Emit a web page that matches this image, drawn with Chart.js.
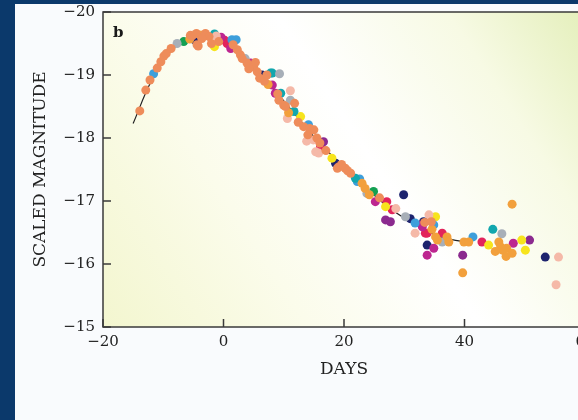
<!DOCTYPE html>
<html lang="en">
<head>
<meta charset="utf-8">
<script src="https://cdn.jsdelivr.net/npm/chart.js@4.4.1/dist/chart.umd.min.js"></script>
<style>
  html, body { margin: 0; padding: 0; overflow: hidden; }
  body { width: 578px; height: 420px; background: #0b396b; position: relative; }
  #page { position: absolute; left: 15px; top: 4px; right: 0; bottom: 0; background: #f9fbfd; }
  #wrap { position: absolute; left: 0; top: 0; width: 600px; height: 420px; }
</style>
</head>
<body>
<div id="page"></div>
<div id="wrap"><canvas id="chart"></canvas></div>

<script>
// axis ticks
var xTicks = [-20, 0, 20, 40, 60];
var yTicks = [-20, -19, -18, -17, -16, -15];

// template light curve [day, magnitude]
var curve = [[-15,-18.23],[-12,-18.9],[-9,-19.35],[-6,-19.58],[-3,-19.64],[0,-19.55],[3,-19.3],
  [6,-19.0],[9,-18.7],[12,-18.36],[15,-18.02],[18,-17.72],[21,-17.45],[24,-17.18],[27,-16.93],
  [30,-16.73],[33,-16.56],[36,-16.43],[40,-16.35]];

// observed supernovae, grouped by marker colour
var coral = [[-13.9,-18.43],[-12.9,-18.76],[-12.2,-18.92],[-11.0,-19.11],[-10.4,-19.21],[-9.9,-19.30],
  [-9.5,-19.34],[-8.7,-19.42],[-5.2,-19.62],[-4.4,-19.48],[-5.5,-19.63],[-4.5,-19.66],[-3.0,-19.66],
  [-4.2,-19.46],[-2.4,-19.61],[-0.8,-19.53],[-3.6,-19.58],[-2.0,-19.50],[2.3,-19.40],[2.8,-19.32],
  [3.1,-19.26],[3.9,-19.19],[5.0,-19.13],[5.6,-19.05],[5.3,-19.2],[6.8,-18.9],[7.2,-19.0],[9.0,-18.7],
  [9.2,-18.60],[10.0,-18.52],[10.3,-18.5],[11.8,-18.55],[13.3,-18.18],[14.3,-18.15],[15.0,-18.13],
  [15.5,-18.0],[16.0,-17.92],[19.1,-17.54],[18.9,-17.52],[20.2,-17.52],[21.1,-17.44],[20.6,-17.48],
  [25.9,-17.05],[33.4,-16.66],[34.5,-16.67],[1.6,-19.48],[4.2,-19.1],[6.0,-18.95],[12.4,-18.25],
  [14.0,-18.05],[17.0,-17.8],[19.6,-17.58]];
var amber = [[-5.6,-19.57],[-3.8,-19.63],[23.0,-17.28],[23.5,-17.20],[34.6,-16.55],[37.1,-16.43],
  [37.4,-16.35],[35.2,-16.43],[35.5,-16.38],[39.9,-16.35],[40.7,-16.35],[39.7,-15.86],[45.7,-16.35],
  [46.0,-16.27],[45.1,-16.2],[46.3,-16.22],[47.0,-16.25],[46.9,-16.12],[47.9,-16.17],[47.9,-16.95],
  [7.4,-18.85],[10.8,-18.4],[24.2,-17.1]];
var lightSalmon = [[11.1,-18.75],[10.6,-18.31],[14.9,-17.97],[15.3,-17.78],[15.8,-17.76],[28.6,-16.88],
  [31.8,-16.49],[34.1,-16.78],[55.6,-16.11],[55.2,-15.67],[-1.2,-19.62],[13.8,-17.95]];
var magenta = [[-0.4,-19.6],[1.2,-19.42],[4.5,-19.19],[8.1,-18.84],[8.6,-18.71],[25.2,-16.99],
  [32.9,-16.62],[33.0,-16.59],[34.9,-16.25],[33.8,-16.14],[48.1,-16.33]];
var crimson = [[0.6,-19.50],[0.2,-19.55],[16.1,-17.86],[27.1,-16.99],[28.0,-16.86],[33.5,-16.49],
  [33.8,-16.49],[36.3,-16.49],[42.9,-16.35]];
var purple = [[16.6,-17.94],[26.9,-16.70],[27.7,-16.67],[39.7,-16.14],[50.8,-16.38]];
var teal = [[-1.5,-19.65],[7.8,-19.03],[8.1,-19.03],[9.5,-18.71],[11.7,-18.42],[21.9,-17.36],[44.7,-16.55]];
var blue = [[-11.6,-19.02],[1.4,-19.56],[2.1,-19.56],[14.1,-18.21],[22.2,-17.31],[22.6,-17.35],
  [31.8,-16.65],[34.9,-16.62],[41.4,-16.43]];
var navy = [[-4.8,-19.56],[6.4,-19.0],[18.6,-17.6],[29.9,-17.10],[31.0,-16.72],[33.2,-16.67],
  [33.8,-16.30],[53.4,-16.11]];
var yellow = [[-1.5,-19.45],[12.8,-18.34],[18.0,-17.68],[26.9,-16.91],[35.2,-16.75],[44.0,-16.30],
  [49.5,-16.38],[50.1,-16.22]];
var green = [[-6.6,-19.53],[24.9,-17.15]];
var gray = [[-7.7,-19.50],[3.6,-19.26],[9.3,-19.02],[11.1,-18.6],[23.8,-17.12],[30.2,-16.75],
  [36.3,-16.35],[46.2,-16.48]];

function pts(arr) {
  return arr.map(function (p) { return {x: p[0], y: p[1]}; });
}

function dots(data, color) {
  return {
    type: 'scatter',
    data: pts(data),
    backgroundColor: color,
    borderWidth: 0,
    pointRadius: 4.5,
    order: 1
  };
}

function minus(v) {
  return v < 0 ? '\u2212' + Math.abs(v) : '' + v;
}

var serif = '"DejaVu Serif", "Liberation Serif", serif';

// gradient wash behind the plot, frame, inward tick marks and the panel letter
var decor = {
  id: 'decor',
  beforeDraw: function (c) {
    var a = c.chartArea, ctx = c.ctx;
    var g = ctx.createLinearGradient(a.left, a.bottom, a.right, a.top);
    g.addColorStop(0, '#f3f6cf');
    g.addColorStop(0.3, '#fbfceb');
    g.addColorStop(0.55, '#ffffff');
    g.addColorStop(0.8, '#f7fae4');
    g.addColorStop(1, '#e4efbb');
    ctx.save();
    ctx.fillStyle = g;
    ctx.fillRect(a.left, a.top, a.right - a.left, a.bottom - a.top);
    ctx.restore();
  },
  afterDraw: function (c) {
    var a = c.chartArea, ctx = c.ctx;
    ctx.save();
    ctx.strokeStyle = '#3a3a3a';
    ctx.lineWidth = 1.5;
    ctx.strokeRect(a.left, a.top, a.right - a.left, a.bottom - a.top);
    ctx.beginPath();
    yTicks.forEach(function (v) {
      var y = c.scales.y.getPixelForValue(v);
      ctx.moveTo(a.left, y);
      ctx.lineTo(a.left + 8, y);
    });
    xTicks.forEach(function (v) {
      var x = c.scales.x.getPixelForValue(v);
      ctx.moveTo(x, a.bottom);
      ctx.lineTo(x, a.bottom - 8);
    });
    ctx.stroke();
    ctx.fillStyle = '#1a1a1a';
    ctx.font = 'bold 15px ' + serif;
    ctx.textBaseline = 'middle';
    ctx.fillText('b', a.left + 10, a.top + 21);
    ctx.restore();
  }
};

var datasets = [
  {
    type: 'line',
    data: pts(curve),
    borderColor: '#222',
    borderWidth: 1.2,
    pointRadius: 0,
    tension: 0.4,
    fill: false,
    order: 100
  },
  dots(coral, '#ee8c5a'),
  dots(amber, '#f2a03c'),
  dots(lightSalmon, '#f5b9a8'),
  dots(gray, '#a7afb8'),
  dots(teal, '#12a7ae'),
  dots(blue, '#3d9fdb'),
  dots(green, '#13a052'),
  dots(yellow, '#f7e41c'),
  dots(purple, '#8b2a8f'),
  dots(magenta, '#bd2690'),
  dots(crimson, '#e2245b'),
  dots(navy, '#1d236e')
];

new Chart(document.getElementById('chart'), {
  type: 'scatter',
  data: {datasets: datasets},
  plugins: [decor],
  options: {
    responsive: true,
    maintainAspectRatio: false,
    animation: false,
    layout: {padding: {top: 12, right: 15, left: 0, bottom: 0}},
    plugins: {legend: {display: false}, tooltip: {enabled: false}},
    scales: {
      x: {
        type: 'linear',
        min: -20, max: 60,
        afterBuildTicks: function (s) { s.ticks = xTicks.map(function (v) { return {value: v}; }); },
        afterFit: function (s) { s.height = 93; s.paddingLeft = 0; s.paddingRight = 0; },
        grid: {display: false, drawTicks: false},
        border: {display: false},
        ticks: {
          padding: 6,
          color: '#222',
          font: {family: serif, size: 15},
          callback: minus
        },
        title: {
          display: true, text: 'DAYS', color: '#222',
          font: {family: serif, size: 17},
          padding: {top: 0, bottom: 40}
        }
      },
      y: {
        type: 'linear',
        min: -20, max: -15,
        reverse: true,
        afterBuildTicks: function (s) { s.ticks = yTicks.map(function (v) { return {value: v}; }); },
        afterFit: function (s) { s.width = 103; s.paddingTop = 0; s.paddingBottom = 0; },
        grid: {display: false, drawTicks: false},
        border: {display: false},
        ticks: {
          padding: 8,
          color: '#222',
          font: {family: serif, size: 15},
          callback: minus
        },
        title: {
          display: true, text: 'SCALED MAGNITUDE', color: '#222',
          font: {family: serif, size: 17},
          padding: {top: 30, bottom: 0}
        }
      }
    }
  }
});
</script>
</body>
</html>
